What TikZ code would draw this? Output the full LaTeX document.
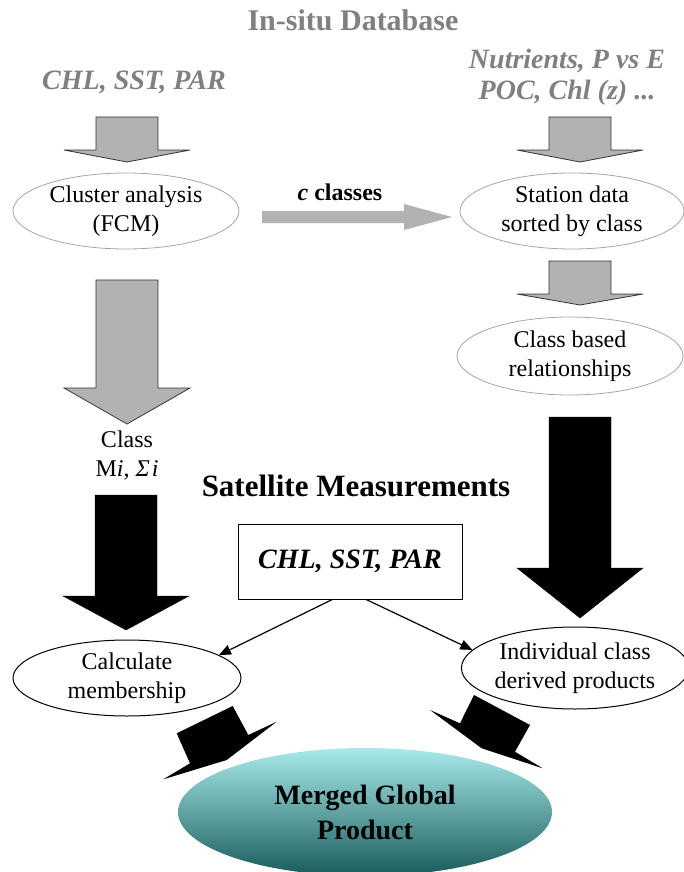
\documentclass[tikz,border=0pt]{standalone}
\usepackage{fontspec}
\setmainfont{Liberation Serif}
\usetikzlibrary{shapes.geometric,arrows.meta}
\definecolor{txtgray}{RGB}{128,128,128}
\definecolor{arrgray}{RGB}{178,178,178}
\definecolor{ellgray}{RGB}{165,165,165}
\definecolor{mtop}{RGB}{168,234,234}
\definecolor{mbot}{RGB}{26,90,90}
\begin{document}
\begin{tikzpicture}[x=1pt, y=-1pt,
  ell/.style={ellipse, inner sep=0pt, align=center, font=\fontsize{24}{29}\selectfont},
  grayell/.style={ell, draw=ellgray, line width=0.8pt},
  blackell/.style={ell, draw=black, line width=1pt},
  graybi/.style={text=txtgray, align=center, font=\fontsize{28}{31}\selectfont\bfseries\itshape},
  grayblk/.style={fill=arrgray, draw=black!80, line width=0.8pt},
  blackblk/.style={fill=black, draw=black},
  thinarr/.style={-{Triangle[length=12pt,width=10pt]}, line width=1.2pt}]

  \useasboundingbox (0,0) rectangle (684,872);

  \newcommand\Blk[5]{\draw[#1] (#2-31,#3) -- (#2+31,#3) -- (#2+31,#4) -- (#2+63,#4) -- (#2,#5) -- (#2-63,#4) -- (#2-31,#4) -- cycle;}

  %% in-situ side
  \node[font=\fontsize{30}{36}\selectfont\bfseries, text=txtgray] (insitu) at (353,20) {In-situ Database};
  \node[graybi] (chlA) at (134,82) {CHL, SST, PAR};
  \node[graybi] (nutr) at (567,77) {Nutrients, P vs E\\POC, Chl (z) ...};

  \Blk{grayblk}{127}{117}{150}{162}
  \Blk{grayblk}{580}{117}{150}{162}

  \node[grayell, minimum width=226, minimum height=76] (cluster) at (126,211) {Cluster analysis\\(FCM)};
  \node[grayell, minimum width=224, minimum height=76] (station) at (572,211) {Station data\\sorted by class};

  \node[font=\fontsize{24}{29}\selectfont\bfseries] (ncls) at (340,192) {\textit{c} classes};
  \fill[arrgray] (262,211) -- (404,211) -- (404,204) -- (452,217) -- (404,230) -- (404,223) -- (262,223) -- cycle; %% cluster->station

  \Blk{grayblk}{580}{261}{294}{305}
  \node[grayell, minimum width=226, minimum height=78] (relat) at (570,356) {Class based\\relationships};

  \Blk{grayblk}{127}{280}{388}{424}
  \node[align=center, font=\fontsize{24}{29}\selectfont] (clsM) at (127,456) {Class\\M\textit{i}, \textit{Σ\kern2pt i}};

  %% satellite side
  \node[font=\fontsize{31}{36}\selectfont\bfseries] (sat) at (356,486) {Satellite Measurements};
  \node[draw, line width=1pt, minimum width=224, minimum height=75, font=\fontsize{28}{31}\selectfont\bfseries\itshape] (box) at (350,561.5) {CHL, SST, PAR};

  \Blk{blackblk}{126}{495}{596}{630}
  \Blk{blackblk}{580}{417}{568}{618}

  \node[blackell, minimum width=228, minimum height=76] (calc) at (127,678) {Calculate\\membership};
  \node[blackell, minimum width=220, minimum height=82] (indiv) at (575,668) {Individual class\\derived products};

  \draw[thinarr] (box.-115) -- (calc.14);
  \draw[thinarr] (box.-67) -- (indiv.170);

  %% merged
  \node[ellipse, inner sep=0pt, minimum width=374, minimum height=128, top color=mtop, bottom color=mbot, align=center, font=\fontsize{28}{35}\selectfont\bfseries] (merged) at (365,812) {Merged Global\\Product};

  \fill (176.7,733.3) -- (232.7,706) -- (248.3,735) -- (276.7,721.7) -- (226.7,760) -- (163.3,779.3) -- (190,763.3) -- cycle; %% calc->merged
  \fill (474,695) -- (530,725) -- (515,751.7) -- (542.7,768.3) -- (481.7,748.3) -- (430,710) -- (460,723.3) -- cycle; %% indiv->merged
\end{tikzpicture}
\end{document}
